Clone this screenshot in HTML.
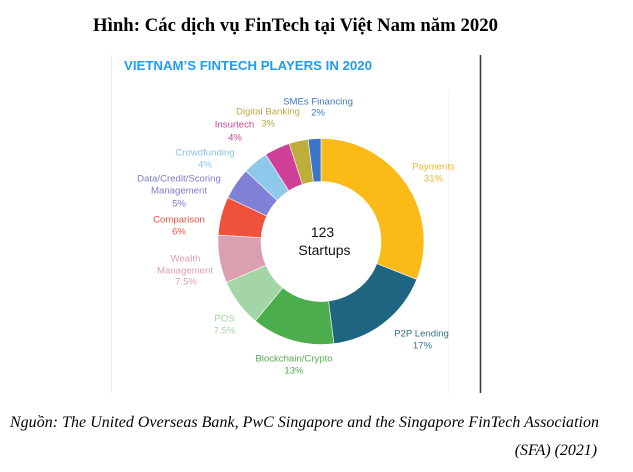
<!DOCTYPE html>
<html>
<head>
<meta charset="utf-8">
<style>
  html, body { margin: 0; padding: 0; background: #ffffff; }
  body { width: 633px; height: 472px; overflow: hidden; }
  svg { display: block; }
  .lbl { font-family: "Liberation Sans", "DejaVu Sans", sans-serif; font-size: 9.6px; text-anchor: middle; }
</style>
</head>
<body>
<svg width="633" height="472" viewBox="0 0 633 472" xmlns="http://www.w3.org/2000/svg">
  <rect x="0" y="0" width="633" height="472" fill="#ffffff"/>

  <!-- Heading -->
  <text x="93" y="31" font-family="'Liberation Serif', 'Noto Serif CJK SC', serif" font-weight="bold" font-size="18.7" fill="#000" textLength="405" lengthAdjust="spacing">Hình: Các dịch vụ FinTech tại Việt Nam năm 2020</text>

  <!-- frame lines -->
  <line x1="111.5" y1="55" x2="111.5" y2="393" stroke="#ececec" stroke-width="1"/>
  <line x1="448.5" y1="90" x2="448.5" y2="393" stroke="#f6f6f6" stroke-width="1"/>
  <line x1="480.5" y1="55" x2="480.5" y2="393" stroke="#3c3c3c" stroke-width="1.6"/>

  <!-- Chart title -->
  <text x="124" y="70" font-family="'Liberation Sans', sans-serif" font-weight="bold" font-size="13.2" fill="#1f9cf0" textLength="248" lengthAdjust="spacingAndGlyphs">VIETNAM’S FINTECH PLAYERS IN 2020</text>

  <!-- Donut slices -->
  <g stroke="#ffffff" stroke-width="0.6">
    <path d="M321,138.5 A103,103 0 0 1 416.76,279.42 L376.78,263.59 A60,60 0 0 0 321,181.5 Z" fill="#fbba16"/>
    <path d="M416.76,279.42 A103,103 0 0 1 333.91,343.69 L328.52,301.03 A60,60 0 0 0 376.78,263.59 Z" fill="#1d6580"/>
    <path d="M333.91,343.69 A103,103 0 0 1 255.35,320.86 L282.75,287.73 A60,60 0 0 0 328.52,301.03 Z" fill="#4bad4b"/>
    <path d="M255.35,320.86 A103,103 0 0 1 226.47,282.41 L265.93,265.33 A60,60 0 0 0 282.75,287.73 Z" fill="#a3d5a6"/>
    <path d="M226.47,282.41 A103,103 0 0 1 218.20,235.03 L261.12,237.73 A60,60 0 0 0 265.93,265.33 Z" fill="#dba0af"/>
    <path d="M218.20,235.03 A103,103 0 0 1 227.80,197.64 L266.71,215.95 A60,60 0 0 0 261.12,237.73 Z" fill="#ef513b"/>
    <path d="M227.80,197.64 A103,103 0 0 1 245.92,170.99 L277.26,200.43 A60,60 0 0 0 266.71,215.95 Z" fill="#7f80d6"/>
    <path d="M245.92,170.99 A103,103 0 0 1 265.81,154.53 L288.85,190.84 A60,60 0 0 0 277.26,200.43 Z" fill="#8ec8ea"/>
    <path d="M265.81,154.53 A103,103 0 0 1 289.17,143.54 L302.46,184.44 A60,60 0 0 0 288.85,190.84 Z" fill="#cf3f98"/>
    <path d="M289.17,143.54 A103,103 0 0 1 308.09,139.31 L313.48,181.97 A60,60 0 0 0 302.46,184.44 Z" fill="#bfad3b"/>
    <path d="M308.09,139.31 A103,103 0 0 1 321,138.5 L321,181.5 A60,60 0 0 0 313.48,181.97 Z" fill="#3a74c8"/>
  </g>

  <!-- Center text -->
  <text x="322.5" y="237" font-family="'Liberation Sans', sans-serif" font-size="14" fill="#111" text-anchor="middle">123</text>
  <text x="324.5" y="255" font-family="'Liberation Sans', sans-serif" font-size="14" fill="#111" text-anchor="middle">Startups</text>

  <!-- Labels -->
  <g class="lbl">
    <text x="318" y="104.5" fill="#3f78c4">SMEs Financing</text>
    <text x="318" y="115.5" fill="#3f78c4">2%</text>

    <text x="268" y="114.5" fill="#b8ac4a">Digital Banking</text>
    <text x="268" y="126.5" fill="#b8ac4a">3%</text>

    <text x="234.5" y="127.5" fill="#c84596">Insurtech</text>
    <text x="235" y="140.5" fill="#c84596">4%</text>

    <text x="205" y="155.5" fill="#8cc4e6">Crowdfunding</text>
    <text x="205" y="167.5" fill="#8cc4e6">4%</text>

    <text x="179" y="181.5" fill="#7b7bcc">Data/Credit/Scoring</text>
    <text x="179" y="193.5" fill="#7b7bcc">Management</text>
    <text x="179" y="206.5" fill="#7b7bcc">5%</text>

    <text x="179" y="222.5" fill="#e8553f">Comparison</text>
    <text x="179" y="234.5" fill="#e8553f">6%</text>

    <text x="185.5" y="261.5" fill="#dca2b2">Wealth</text>
    <text x="185" y="273.5" fill="#dca2b2">Management</text>
    <text x="186" y="284.5" fill="#dca2b2">7.5%</text>

    <text x="224.5" y="321.5" fill="#a5d6a8">POS</text>
    <text x="224.5" y="333.5" fill="#a5d6a8">7.5%</text>

    <text x="294" y="361.5" fill="#56ab52">Blockchain/Crypto</text>
    <text x="294" y="373.5" fill="#56ab52">13%</text>

    <text x="421.5" y="336.5" fill="#35718d">P2P Lending</text>
    <text x="422.5" y="348.5" fill="#35718d">17%</text>

    <text x="433.5" y="169.5" fill="#f3b52a">Payments</text>
    <text x="433.5" y="181.5" fill="#f3b52a">31%</text>
  </g>

  <!-- Source -->
  <text x="10" y="427" font-family="'Liberation Serif', serif" font-style="italic" font-size="15.9" fill="#000" textLength="589" lengthAdjust="spacing">Nguồn: The United Overseas Bank, PwC Singapore and the Singapore FinTech Association</text>
  <text x="597" y="455" font-family="'Liberation Serif', serif" font-style="italic" font-size="15.9" fill="#000" text-anchor="end">(SFA) (2021)</text>
</svg>
</body>
</html>
